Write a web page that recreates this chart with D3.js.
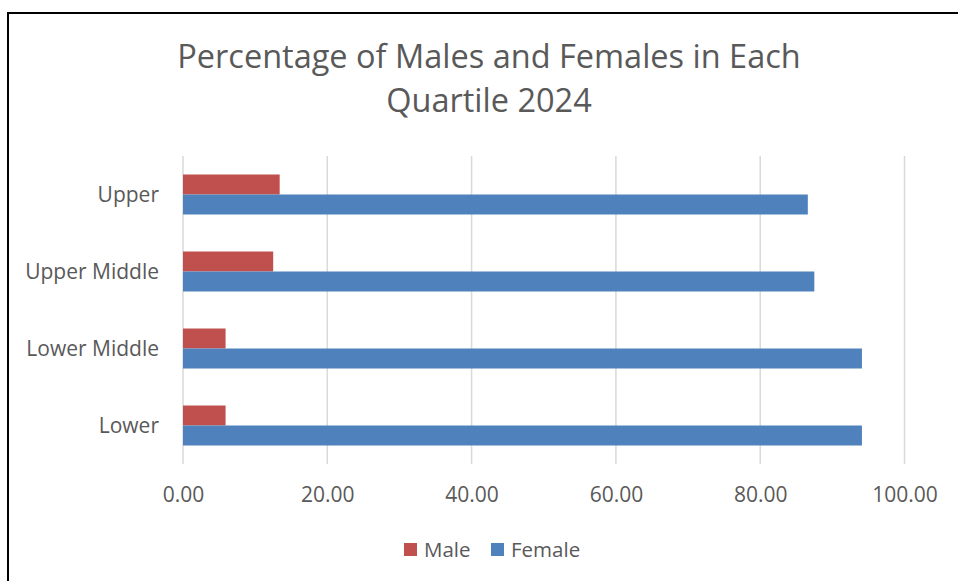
<!DOCTYPE html>
<html><head><meta charset="utf-8">
<script src="https://cdn.jsdelivr.net/npm/d3@7"></script>
<style>
html,body{margin:0;padding:0;background:#fff;overflow:hidden;}
svg{display:block;font-family:"Open Sans",sans-serif;}
</style></head>
<body>
<svg id="chart" width="958" height="581"></svg>
<script>
const categories = ["Upper", "Upper Middle", "Lower Middle", "Lower"];
const seriesNames = ["Male", "Female"];
const maleValues = [13.4, 12.5, 5.9, 5.9];
const femaleValues = [86.6, 87.5, 94.1, 94.1];
const xTicks = [0, 20, 40, 60, 80, 100];
const titleLines = ["Percentage of Males and Females in Each", "Quartile 2024"];
const colors = {Male: "#C0504D", Female: "#4F81BD"};

const svg = d3.select("#chart");
const textColor = "#595959";

// outer border (only top & left visible in reference)
svg.append("rect").attr("x", 8).attr("y", 13).attr("width", 1000).attr("height", 1000)
  .attr("fill", "none").attr("stroke", "#000").attr("stroke-width", 2);

const margin = {left: 183, right: 958 - 904.5, top: 156, bottom: 581 - 464};
const x = d3.scaleLinear().domain([0, 100]).range([margin.left, 958 - margin.right]);
const y = d3.scaleBand().domain(categories).range([margin.top, 581 - margin.bottom]).padding(0);
const sub = d3.scaleBand().domain(seriesNames).range([0, y.bandwidth()]).paddingInner(0).paddingOuter(0.925);

// gridlines
svg.append("g").selectAll("line").data(xTicks).join("line")
  .attr("x1", d => x(d)).attr("x2", d => x(d))
  .attr("y1", margin.top).attr("y2", 581 - margin.bottom)
  .attr("stroke", "#d9d9d9").attr("stroke-width", 1.5);

// bars
const data = categories.map((c, i) => ({cat: c, Male: maleValues[i], Female: femaleValues[i]}));
const groups = svg.append("g").selectAll("g").data(data).join("g")
  .attr("transform", d => `translate(0,${y(d.cat)})`);
groups.selectAll("rect").data(d => seriesNames.map(s => ({s, v: d[s]}))).join("rect")
  .attr("x", x(0)).attr("y", d => sub(d.s))
  .attr("width", d => x(d.v) - x(0)).attr("height", sub.bandwidth())
  .attr("fill", d => colors[d.s]);

// x axis labels
const xAxis = d3.axisBottom(x).tickValues(xTicks).tickFormat(d3.format(".2f")).tickSize(0).tickPadding(0);
const gx = svg.append("g").attr("transform", `translate(0,${581 - margin.bottom})`).call(xAxis);
gx.select(".domain").remove();
gx.selectAll("text").attr("fill", textColor).attr("font-size", 21).attr("font-family", "Open Sans")
  .attr("y", 0).attr("dy", "1.8em");

// y axis labels
const yAxis = d3.axisLeft(y).tickSize(0).tickPadding(0);
const gy = svg.append("g").attr("transform", `translate(${margin.left - 24},0)`).call(yAxis);
gy.select(".domain").remove();
gy.selectAll("text").attr("fill", textColor).attr("font-size", 21).attr("font-family", "Open Sans").attr("dy", "0.35em");

// title
svg.append("text").attr("x", 489).attr("y", 68).attr("text-anchor", "middle")
  .attr("fill", textColor).attr("font-size", 32.5)
  .selectAll("tspan").data(titleLines).join("tspan")
  .attr("x", 489).attr("dy", (d, i) => i === 0 ? 0 : 44).text(d => d);

// legend
const legendItems = [{s: "Male", x: 404}, {s: "Female", x: 491}];
const lg = svg.append("g").selectAll("g").data(legendItems).join("g")
  .attr("transform", d => `translate(${d.x},543)`);
lg.append("rect").attr("width", 13).attr("height", 13).attr("fill", d => colors[d.s]);
lg.append("text").attr("x", 20).attr("y", 6.5).attr("dy", "0.35em")
  .attr("fill", textColor).attr("font-size", 20.5).text(d => d.s);
</script>
</body></html>
